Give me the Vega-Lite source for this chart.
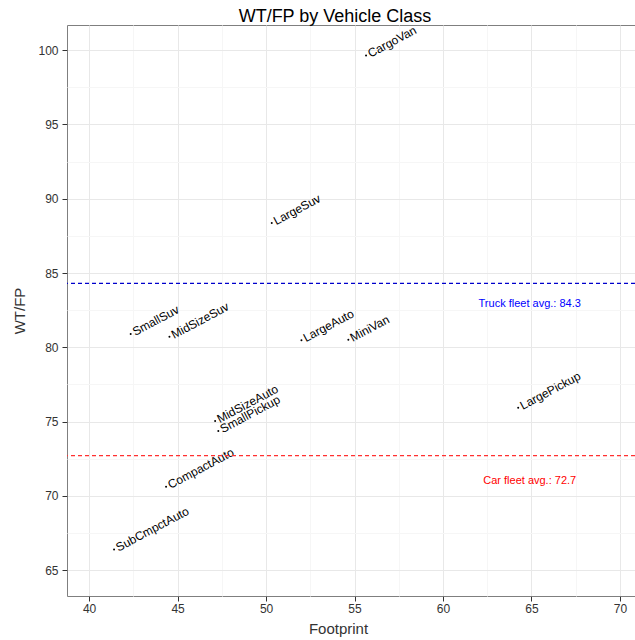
{
  "$schema": "https://vega.github.io/schema/vega-lite/v6.json",
  "width": 568,
  "height": 571,
  "autosize": {"type": "none"},
  "padding": {"left": 67, "top": 25, "right": 0, "bottom": 44},
  "background": "white",
  "title": {"text": "WT/FP by Vehicle Class", "fontSize": 18, "font": "Liberation Sans", "fontWeight": "normal", "color": "black", "dx": -16, "offset": 2, "dy": 4},
  "config": {
    "view": {"stroke": "#7f7f7f", "strokeWidth": 1},
    "axis": {"domain": false, "tickColor": "#333333", "tickSize": 5, "labelFont": "Liberation Sans", "labelFontSize": 12, "labelColor": "#333333", "titleFont": "Liberation Sans", "titleFontSize": 15, "titleFontWeight": "normal", "titleColor": "#333333"}
  },
  "datasets": {
    "veh": [
      {"Class": "CargoVan", "Footprint": 55.65, "WTFP": 99.64},
      {"Class": "LargeSuv", "Footprint": 50.32, "WTFP": 88.36},
      {"Class": "SmallSuv", "Footprint": 42.35, "WTFP": 80.9},
      {"Class": "MidSizeSuv", "Footprint": 44.54, "WTFP": 80.7},
      {"Class": "LargeAuto", "Footprint": 52.0, "WTFP": 80.48},
      {"Class": "MiniVan", "Footprint": 54.65, "WTFP": 80.5},
      {"Class": "LargePickup", "Footprint": 64.25, "WTFP": 75.92},
      {"Class": "MidSizeAuto", "Footprint": 47.12, "WTFP": 75.03},
      {"Class": "SmallPickup", "Footprint": 47.3, "WTFP": 74.36},
      {"Class": "CompactAuto", "Footprint": 44.35, "WTFP": 70.6},
      {"Class": "SubCmpctAuto", "Footprint": 41.41, "WTFP": 66.38}
    ],
    "avgs": [
      {"Fleet": "Truck", "WTFP": 84.3, "text": "Truck fleet avg.: 84.3", "Footprint": 64.9, "LabelY": 82.9},
      {"Fleet": "Car", "WTFP": 72.7, "text": "Car fleet avg.: 72.7", "Footprint": 64.9, "LabelY": 71.0}
    ]
  },
  "layer": [
    {
      "data": {"name": "veh"},
      "mark": {"type": "point", "filled": true, "color": "black", "size": 4, "opacity": 1},
      "encoding": {
        "x": {"field": "Footprint", "type": "quantitative", "title": "Footprint",
          "scale": {"domain": [38.75, 70.85], "nice": false, "zero": false},
          "axis": {
            "values": [40, 42.5, 45, 47.5, 50, 52.5, 55, 57.5, 60, 62.5, 65, 67.5, 70],
            "gridColor": {"condition": {"test": "datum.value % 5 === 0", "value": "#e8e8e8"}, "value": "#f6f6f6"},
            "tickOpacity": {"condition": {"test": "datum.value % 5 === 0", "value": 1}, "value": 0},
            "labelExpr": "datum.value % 5 === 0 ? datum.label : ''",
            "labelPadding": 2, "titlePadding": 7, "titleX": 271
          }},
        "y": {"field": "WTFP", "type": "quantitative", "title": "WT/FP",
          "scale": {"domain": [63.25, 101.7], "nice": false, "zero": false},
          "axis": {
            "values": [65, 67.5, 70, 72.5, 75, 77.5, 80, 82.5, 85, 87.5, 90, 92.5, 95, 97.5, 100],
            "gridColor": {"condition": {"test": "datum.value % 5 === 0", "value": "#e8e8e8"}, "value": "#f6f6f6"},
            "tickOpacity": {"condition": {"test": "datum.value % 5 === 0", "value": 1}, "value": 0},
            "labelExpr": "datum.value % 5 === 0 ? datum.label : ''",
            "labelPadding": 4, "titlePadding": 10
          }}
      }
    },
    {
      "data": {"name": "veh"},
      "mark": {"type": "text", "align": "left", "baseline": "middle", "angle": -28, "dx": 3, "font": "Liberation Sans", "fontSize": 12, "color": "black"},
      "encoding": {
        "x": {"field": "Footprint", "type": "quantitative", "title": "Footprint"},
        "y": {"field": "WTFP", "type": "quantitative", "title": "WT/FP"},
        "text": {"field": "Class"}
      }
    },
    {
      "data": {"name": "avgs"},
      "mark": {"type": "rule", "strokeDash": [4, 3], "strokeWidth": 1.2, "strokeOpacity": 1},
      "encoding": {
        "y": {"field": "WTFP", "type": "quantitative", "title": "WT/FP"},
        "stroke": {"field": "Fleet", "type": "nominal", "scale": {"domain": ["Truck", "Car"], "range": ["#0000cc", "#ff3030"]}, "legend": null}
      }
    },
    {
      "data": {"name": "avgs"},
      "mark": {"type": "text", "align": "center", "baseline": "middle", "font": "Liberation Sans", "fontSize": 11},
      "encoding": {
        "x": {"field": "Footprint", "type": "quantitative", "title": "Footprint"},
        "y": {"field": "LabelY", "type": "quantitative", "title": "WT/FP"},
        "text": {"field": "text"},
        "fill": {"field": "Fleet", "type": "nominal", "scale": {"domain": ["Truck", "Car"], "range": ["#0000ff", "#ff0000"]}, "legend": null}
      }
    }
  ]
}
